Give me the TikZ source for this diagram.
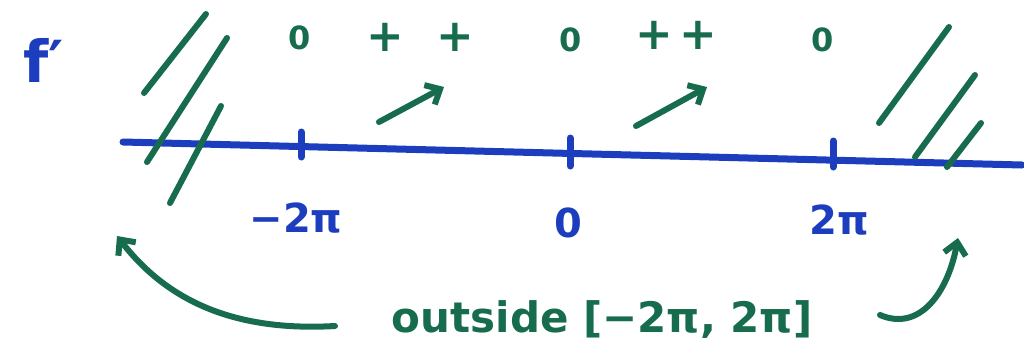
\documentclass[tikz,border=0pt]{standalone}
\usepackage{fontspec}
\setmainfont{DejaVu Sans}
\usetikzlibrary{arrows.meta}
\definecolor{penblue}{RGB}{28,62,190}
\definecolor{pengreen}{RGB}{22,108,76}
\begin{document}
\begin{tikzpicture}[x=1pt,y=-1pt,
  bluepen/.style={penblue,line width=7pt,line cap=round},
  greenpen/.style={pengreen,line width=6pt,line cap=round},
  tickmark/.style={penblue,line width=7pt,line cap=round},
  bluelbl/.style={text=penblue,font=\fontsize{40}{40}\selectfont\bfseries,inner sep=0pt},
  signzero/.style={text=pengreen,font=\fontsize{32}{32}\selectfont\bfseries,inner sep=0pt},
  signplus/.style={text=pengreen,font=\fontsize{45}{45}\selectfont\bfseries,inner sep=0pt},
  grownarrow/.style={greenpen,-{Straight Barb[length=12pt,width=22pt,line width=6pt]}},
  notelbl/.style={text=pengreen,font=\fontsize{42}{42}\selectfont\bfseries,inner sep=0pt}]
\useasboundingbox (0,0) rectangle (1024,354);
% axis
\draw[bluepen] (123,142) -- (1022,165);
% ticks
\draw[tickmark] (301,132) -- (301,157);
\draw[tickmark] (570,138) -- (570,166);
\draw[tickmark] (833,141) -- (833,167);
% hatches
\draw[greenpen] (144,93) -- (206,14);
\draw[greenpen] (147,162) -- (227,38);
\draw[greenpen] (170,203) -- (221,106);
\draw[greenpen] (879,123) -- (949,27);
\draw[greenpen] (915,157) -- (975,75);
\draw[greenpen] (947,167) -- (981,123);
% labels
\node[text=penblue,font=\fontsize{58}{58}\selectfont\bfseries,inner sep=0pt] (fp) at (44,60) {f′};
\node[bluelbl] (lm) at (296,218) {−2π};
\node[bluelbl] (l0) at (568,223) {0};
\node[bluelbl] (lp) at (839,220) {2π};
% sign row
\node[signzero] (z1) at (300,38) {0};
\node[signplus] (p1) at (385,37) {+};
\node[signplus] (p2) at (455,37) {+};
\node[signzero] (z2) at (571,40) {0};
\node[signplus] (p3) at (654,35) {+};
\node[signplus] (p4) at (698,35) {+};
\node[signzero] (z3) at (823,40) {0};
% increasing arrows
\coordinate (a1s) at (379,122);
\coordinate (a1e) at (444,87);
\coordinate (a2s) at (636,126);
\coordinate (a2e) at (707,87);
\draw[grownarrow] (a1s) -- (a1e);
\draw[grownarrow] (a2s) -- (a2e);
% note
\node[notelbl] (note) at (602,320) {outside [−2π, 2π]};
\coordinate (c1s) at (335,326);
\coordinate (c1e) at (117,236);
\coordinate (c2s) at (880,315);
\coordinate (c2e) at (958,238);
\draw[grownarrow] (c1s) .. controls (230,332) and (165,298) .. (c1e);
\draw[grownarrow] (c2s) .. controls (920,332) and (948,292) .. (c2e);
\end{tikzpicture}
\end{document}
